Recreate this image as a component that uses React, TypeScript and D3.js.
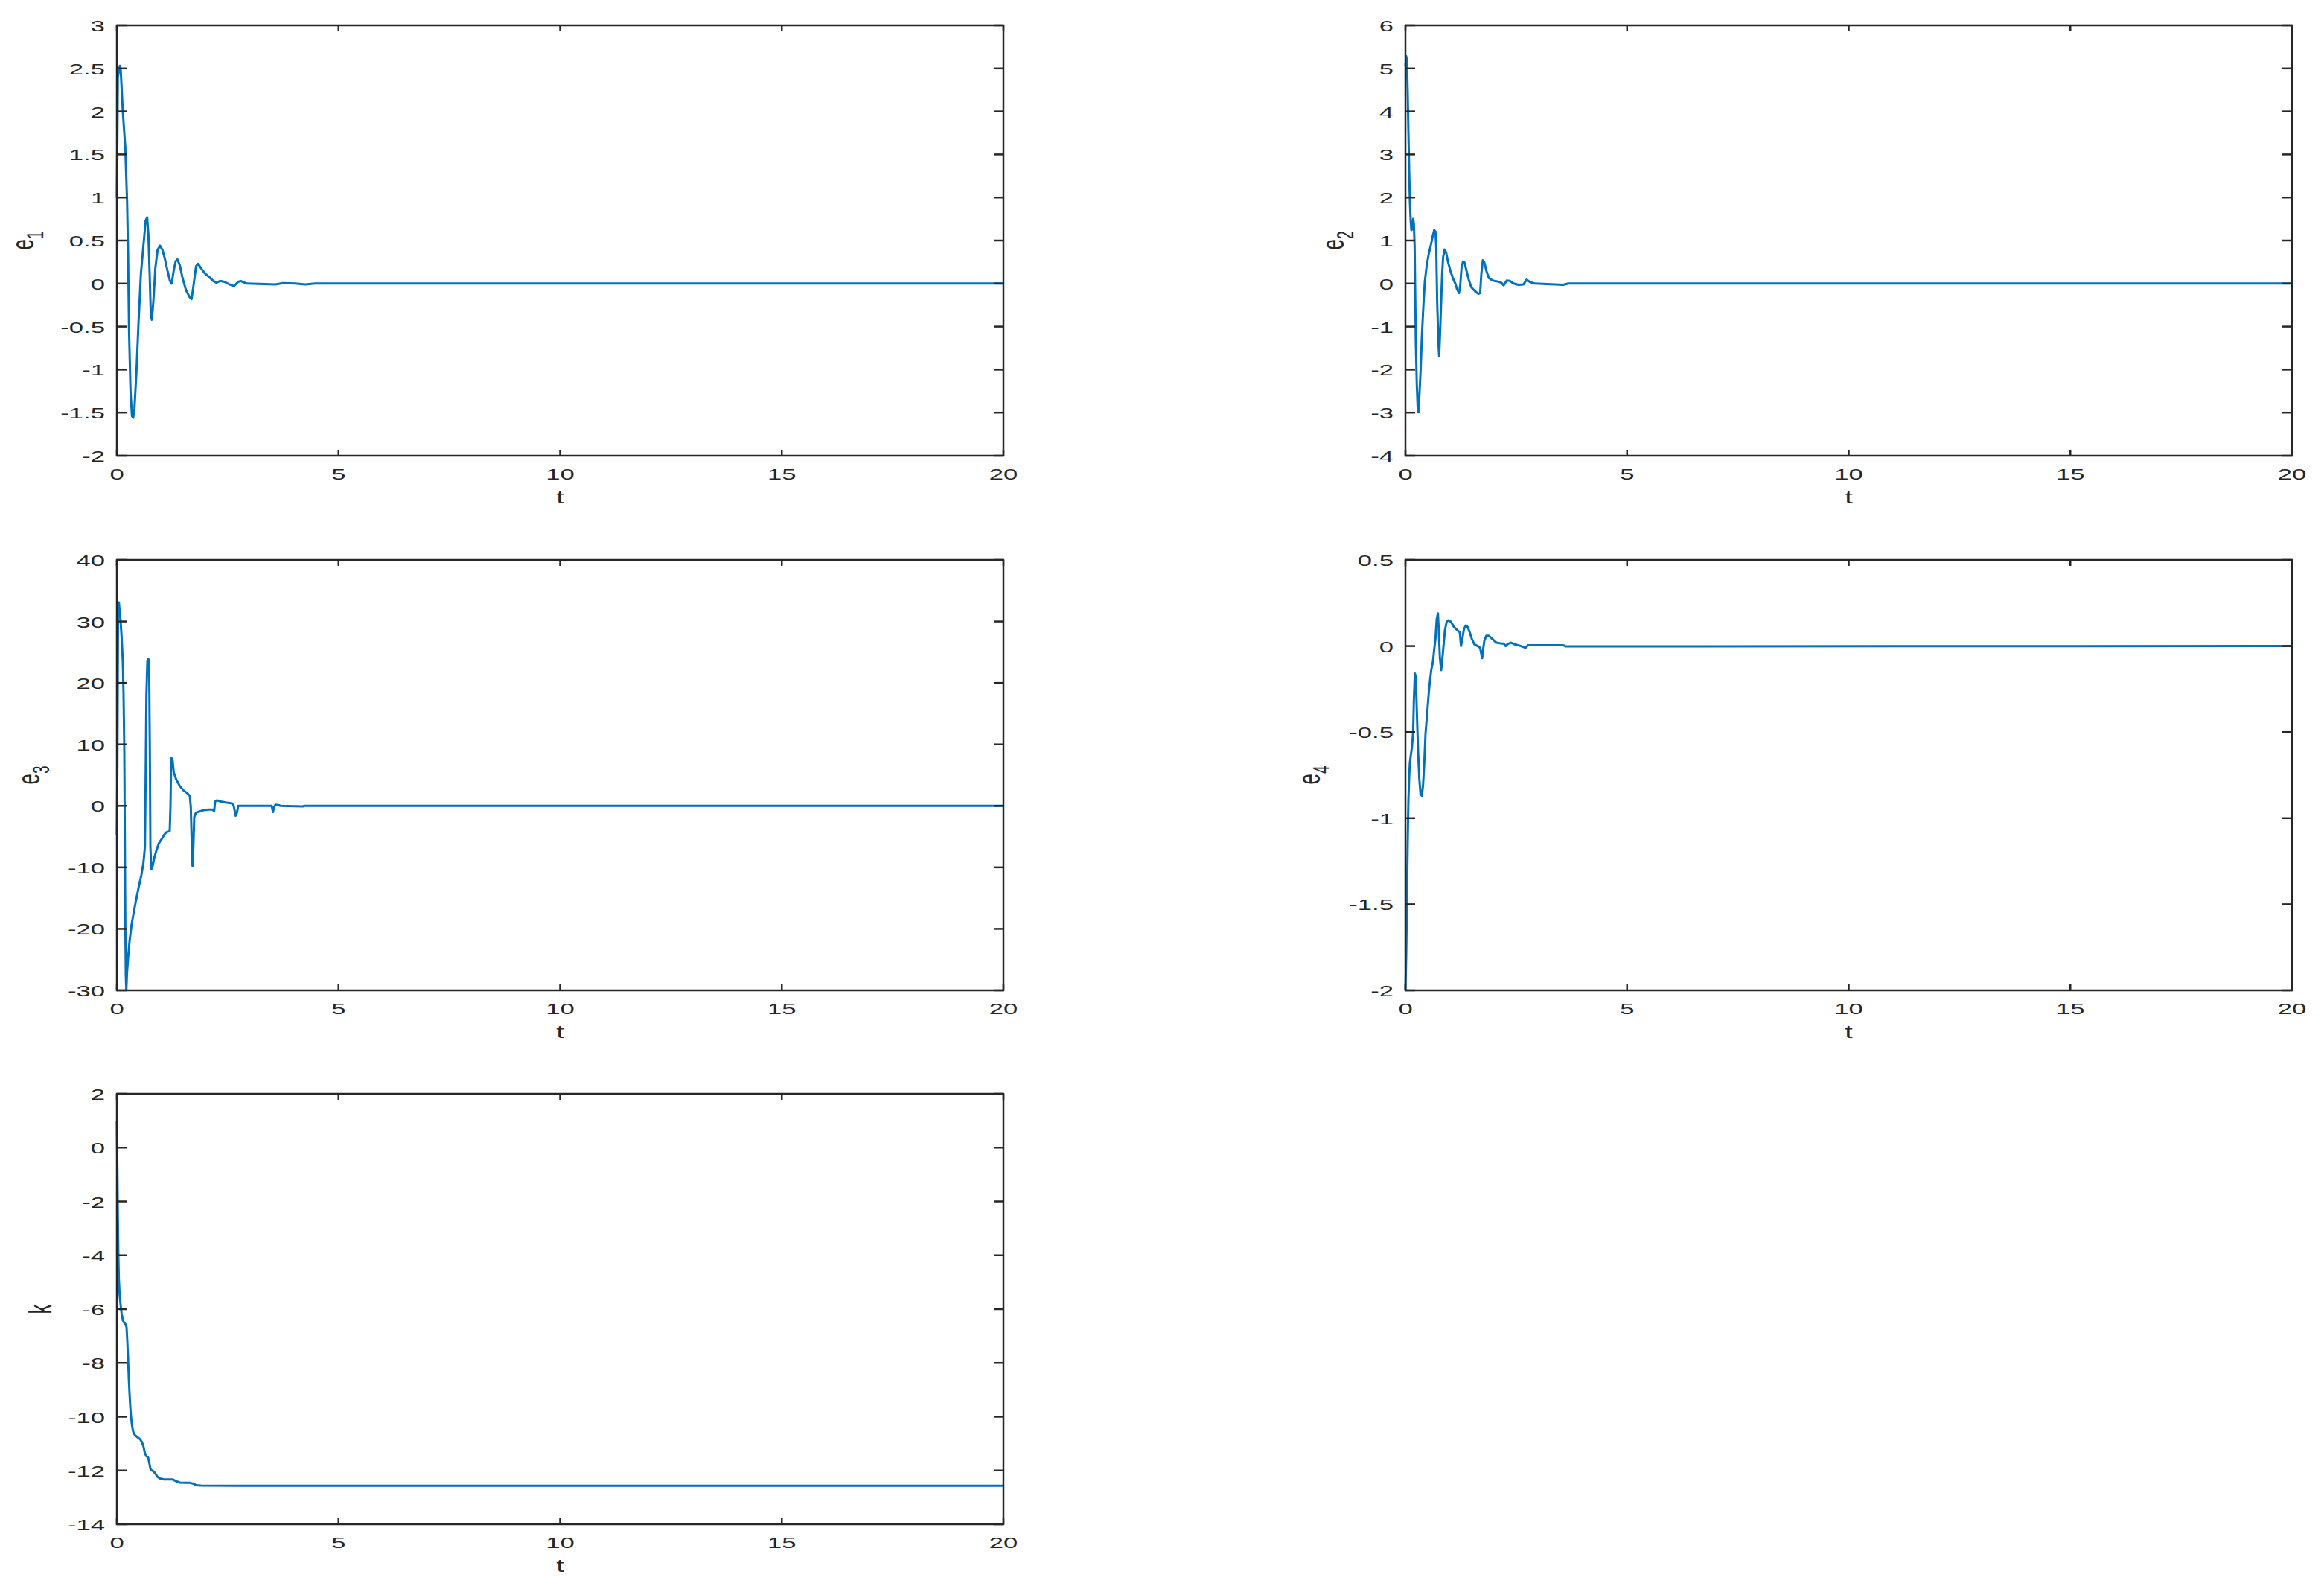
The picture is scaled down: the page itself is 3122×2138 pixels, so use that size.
import React, { useEffect } from 'react'
import * as d3 from 'd3'

// time grid for each series, values in matching order
const e1T = [0, 0.022, 0.05, 0.067, 0.084, 0.095, 0.134, 0.19, 0.23, 0.252, 0.274, 0.308, 0.341, 0.369, 0.397, 0.442, 0.487, 0.543, 0.599, 0.649, 0.683, 0.711, 0.739, 0.767, 0.789, 0.823, 0.868, 0.918, 0.974, 1.03, 1.086, 1.142, 1.198, 1.237, 1.282, 1.327, 1.366, 1.422, 1.478, 1.562, 1.646, 1.685, 1.73, 1.786, 1.83, 1.898, 1.982, 2.093, 2.177, 2.245, 2.329, 2.429, 2.541, 2.642, 2.737, 2.793, 2.933, 3.577, 3.745, 4.025, 4.249, 4.472, 20]
const e1V = [1.0, 2.4, 2.48, 2.53, 2.5, 2.4, 2.0, 1.58, 0.96, 0.38, -0.53, -1.25, -1.54, -1.56, -1.45, -1.02, -0.47, 0.12, 0.44, 0.73, 0.77, 0.57, 0.12, -0.37, -0.42, -0.21, 0.18, 0.39, 0.44, 0.39, 0.28, 0.15, 0.03, 0.0, 0.15, 0.26, 0.28, 0.21, 0.07, -0.08, -0.16, -0.18, -0.02, 0.2, 0.23, 0.18, 0.12, 0.07, 0.03, 0.01, 0.03, 0.02, -0.01, -0.03, 0.02, 0.03, 0.0, -0.01, 0.005, 0.0, -0.01, 0.0, 0.0]

const e2T = [0, 0.017, 0.034, 0.05, 0.067, 0.084, 0.1, 0.118, 0.134, 0.157, 0.174, 0.19, 0.207, 0.218, 0.235, 0.257, 0.28, 0.297, 0.313, 0.341, 0.369, 0.403, 0.437, 0.481, 0.526, 0.571, 0.61, 0.649, 0.677, 0.694, 0.716, 0.744, 0.761, 0.784, 0.806, 0.828, 0.851, 0.884, 0.918, 0.963, 1.013, 1.069, 1.125, 1.164, 1.209, 1.237, 1.265, 1.299, 1.332, 1.377, 1.433, 1.489, 1.573, 1.646, 1.685, 1.713, 1.746, 1.78, 1.825, 1.881, 1.965, 2.077, 2.161, 2.217, 2.284, 2.357, 2.44, 2.552, 2.664, 2.732, 2.804, 2.916, 3.56, 3.672, 20]
const e2V = [5.05, 5.28, 5.18, 4.46, 3.55, 2.64, 1.92, 1.47, 1.24, 1.27, 1.5, 1.4, 0.88, -0.03, -1.4, -2.37, -2.96, -2.99, -2.63, -2.05, -1.27, -0.55, 0.04, 0.43, 0.69, 0.88, 1.08, 1.24, 1.21, 0.88, -0.42, -1.4, -1.69, -1.07, -0.42, 0.23, 0.62, 0.79, 0.72, 0.49, 0.3, 0.13, 0.0, -0.13, -0.22, -0.03, 0.36, 0.51, 0.49, 0.3, 0.07, -0.09, -0.18, -0.24, -0.22, 0.23, 0.54, 0.49, 0.3, 0.13, 0.07, 0.05, 0.02, -0.04, 0.07, 0.06, 0.0, -0.03, -0.02, 0.09, 0.04, 0.0, -0.03, 0.0, 0.0]

const e3T = [0, 0.011, 0.028, 0.045, 0.062, 0.084, 0.106, 0.134, 0.151, 0.168, 0.179, 0.19, 0.202, 0.213, 0.229, 0.252, 0.285, 0.33, 0.386, 0.442, 0.498, 0.554, 0.599, 0.633, 0.649, 0.666, 0.688, 0.711, 0.728, 0.744, 0.756, 0.778, 0.806, 0.845, 0.89, 0.946, 1.002, 1.058, 1.114, 1.192, 1.209, 1.226, 1.254, 1.282, 1.338, 1.422, 1.506, 1.59, 1.646, 1.668, 1.685, 1.707, 1.724, 1.746, 1.786, 1.87, 1.954, 2.065, 2.166, 2.194, 2.217, 2.261, 2.345, 2.457, 2.597, 2.636, 2.681, 2.709, 2.737, 3.493, 3.521, 3.549, 3.577, 3.661, 3.689, 4.193, 4.221, 20]
const e3V = [-4.8, 6.2, 32.8, 33.1, 31.7, 30.1, 27.6, 23.5, 18.0, 8.9, -4.8, -18.5, -27.6, -29.9, -27.1, -24.8, -22.1, -19.4, -17.1, -15.0, -13.0, -11.2, -9.3, -6.6, 4.3, 18.0, 23.5, 23.9, 22.6, 8.9, -6.6, -10.3, -9.8, -8.4, -7.3, -6.1, -5.5, -4.8, -4.3, -4.1, -0.2, 7.8, 7.6, 5.5, 4.3, 3.2, 2.5, 2.05, 1.6, -0.2, -4.8, -9.8, -7.0, -1.8, -1.1, -0.9, -0.7, -0.6, -0.6, -0.9, 0.7, 0.9, 0.7, 0.55, 0.4, 0.0, -1.6, -1.1, 0.0, 0.0, -1.0, -0.2, 0.2, 0.1, 0.0, -0.1, 0.0, 0.0]

const e4T = [0, 0.017, 0.034, 0.05, 0.067, 0.084, 0.1, 0.123, 0.146, 0.174, 0.19, 0.213, 0.235, 0.257, 0.285, 0.313, 0.341, 0.369, 0.397, 0.425, 0.453, 0.493, 0.537, 0.582, 0.621, 0.649, 0.677, 0.705, 0.733, 0.75, 0.778, 0.806, 0.834, 0.862, 0.89, 0.929, 0.974, 1.03, 1.097, 1.181, 1.226, 1.254, 1.282, 1.321, 1.366, 1.405, 1.45, 1.5, 1.556, 1.629, 1.685, 1.73, 1.752, 1.78, 1.825, 1.881, 1.965, 2.049, 2.161, 2.217, 2.261, 2.3, 2.373, 2.468, 2.608, 2.709, 2.765, 2.888, 3.56, 3.616, 20]
const e4V = [-2.0, -1.8, -1.47, -1.15, -0.9, -0.76, -0.68, -0.63, -0.59, -0.5, -0.32, -0.16, -0.18, -0.38, -0.61, -0.77, -0.86, -0.87, -0.81, -0.68, -0.51, -0.38, -0.24, -0.14, -0.09, -0.02, 0.04, 0.155, 0.19, 0.1, -0.07, -0.14, -0.07, 0.01, 0.09, 0.14, 0.15, 0.14, 0.11, 0.09, 0.08, 0.0, 0.04, 0.1, 0.12, 0.11, 0.08, 0.04, 0.01, 0.0, -0.01, -0.07, -0.02, 0.03, 0.06, 0.06, 0.04, 0.02, 0.015, 0.015, 0.0, 0.01, 0.02, 0.01, 0.0, -0.01, 0.005, 0.005, 0.005, -0.002, 0.0]

const kT = [0, 0.011, 0.022, 0.034, 0.045, 0.062, 0.084, 0.106, 0.134, 0.162, 0.19, 0.218, 0.235, 0.252, 0.274, 0.297, 0.319, 0.341, 0.364, 0.386, 0.414, 0.47, 0.526, 0.565, 0.599, 0.633, 0.666, 0.705, 0.733, 0.756, 0.789, 0.834, 0.879, 0.924, 0.974, 1.058, 1.142, 1.254, 1.338, 1.422, 1.562, 1.646, 1.73, 1.786, 1.898, 2.737, 20]
const kV = [0.99, -0.73, -2.6, -4.07, -4.9, -5.47, -5.84, -6.15, -6.41, -6.5, -6.55, -6.67, -7.19, -7.82, -8.76, -9.49, -10.0, -10.32, -10.53, -10.63, -10.7, -10.77, -10.84, -10.95, -11.1, -11.36, -11.47, -11.52, -11.73, -11.94, -12.0, -12.04, -12.14, -12.25, -12.3, -12.33, -12.33, -12.33, -12.4, -12.45, -12.46, -12.46, -12.49, -12.55, -12.56, -12.57, -12.57]

const xTicks = [0, 5, 10, 15, 20]
const e1Ticks = [-2, -1.5, -1, -0.5, 0, 0.5, 1, 1.5, 2, 2.5, 3]
const e2Ticks = [-4, -3, -2, -1, 0, 1, 2, 3, 4, 5, 6]
const e3Ticks = [-30, -20, -10, 0, 10, 20, 30, 40]
const e4Ticks = [-2, -1.5, -1, -0.5, 0, 0.5]
const kTicks = [-14, -12, -10, -8, -6, -4, -2, 0, 2]

const panels = [
  { t: e1T, v: e1V, ticks: e1Ticks, name: 'e', sub: '1', left: 157, top: 34, labelOff: 112 },
  { t: e2T, v: e2V, ticks: e2Ticks, name: 'e', sub: '2', left: 1888, top: 34, labelOff: 83 },
  { t: e3T, v: e3V, ticks: e3Ticks, name: 'e', sub: '3', left: 157, top: 752, labelOff: 104 },
  { t: e4T, v: e4V, ticks: e4Ticks, name: 'e', sub: '4', left: 1888, top: 752, labelOff: 115 },
  { t: kT, v: kV, ticks: kTicks, name: 'k', sub: '', left: 157, top: 1469, labelOff: 88 },
]

const W = 1191
const H = 578
const SX = 1.65
const axisColor = '#262626'
const lineColor = '#0072BD'
const font = '"Liberation Sans", Arial, Helvetica, sans-serif'

const Panel = ({ p }) => {
  const x = d3.scaleLinear().domain([0, 20]).range([0, W])
  const y = d3.scaleLinear().domain([p.ticks[0], p.ticks[p.ticks.length - 1]]).range([H, 0])
  const pts = p.t.map((t, i) => [t, p.v[i]])
  const line = d3.line().x(d => x(d[0])).y(d => y(d[1]))

  return (
    <g transform={`translate(${p.left},${p.top})`}>
      <path d={line(pts)} fill="none" stroke={lineColor} strokeWidth={3} strokeLinejoin="round" />
      <rect x={0} y={0} width={W} height={H} fill="none" stroke={axisColor} strokeWidth={2.5} />
      {xTicks.map(t => (
        <g key={'x' + t}>
          <line x1={x(t)} x2={x(t)} y1={H} y2={H - 8} stroke={axisColor} strokeWidth={2.5} />
          <line x1={x(t)} x2={x(t)} y1={0} y2={8} stroke={axisColor} strokeWidth={2.5} />
          <text transform={`translate(${x(t)},${H + 32}) scale(${SX},1)`} textAnchor="middle"
            fontSize={21} fill={axisColor} fontFamily={font}>{t}</text>
        </g>
      ))}
      {p.ticks.map(v => (
        <g key={'y' + v}>
          <line x1={0} x2={13} y1={y(v)} y2={y(v)} stroke={axisColor} strokeWidth={2.5} />
          <line x1={W} x2={W - 13} y1={y(v)} y2={y(v)} stroke={axisColor} strokeWidth={2.5} />
          <text transform={`translate(-16,${y(v) + 8}) scale(${SX},1)`} textAnchor="end"
            fontSize={21} fill={axisColor} fontFamily={font}>{String(v)}</text>
        </g>
      ))}
      <text transform={`translate(${W / 2},${H + 64}) scale(${SX},1)`} textAnchor="middle"
        fontSize={23} fill={axisColor} fontFamily={font}>t</text>
      <text transform={`translate(${-p.labelOff},${H / 2}) scale(${SX},1) rotate(-90)`} textAnchor="middle"
        fontSize={26} fill={axisColor} fontFamily={font}>
        {p.name}
        {p.sub && <tspan fontSize={19} dy={8}>{p.sub}</tspan>}
      </text>
    </g>
  )
}

const App = () => {
  useEffect(() => {
    document.body.style.margin = '0'
  }, [])
  return (
    <svg width={3122} height={2138} style={{ display: 'block', background: '#fff' }}>
      <rect width={3122} height={2138} fill="#fff" />
      {panels.map((p, i) => <Panel key={i} p={p} />)}
    </svg>
  )
}

export default App
